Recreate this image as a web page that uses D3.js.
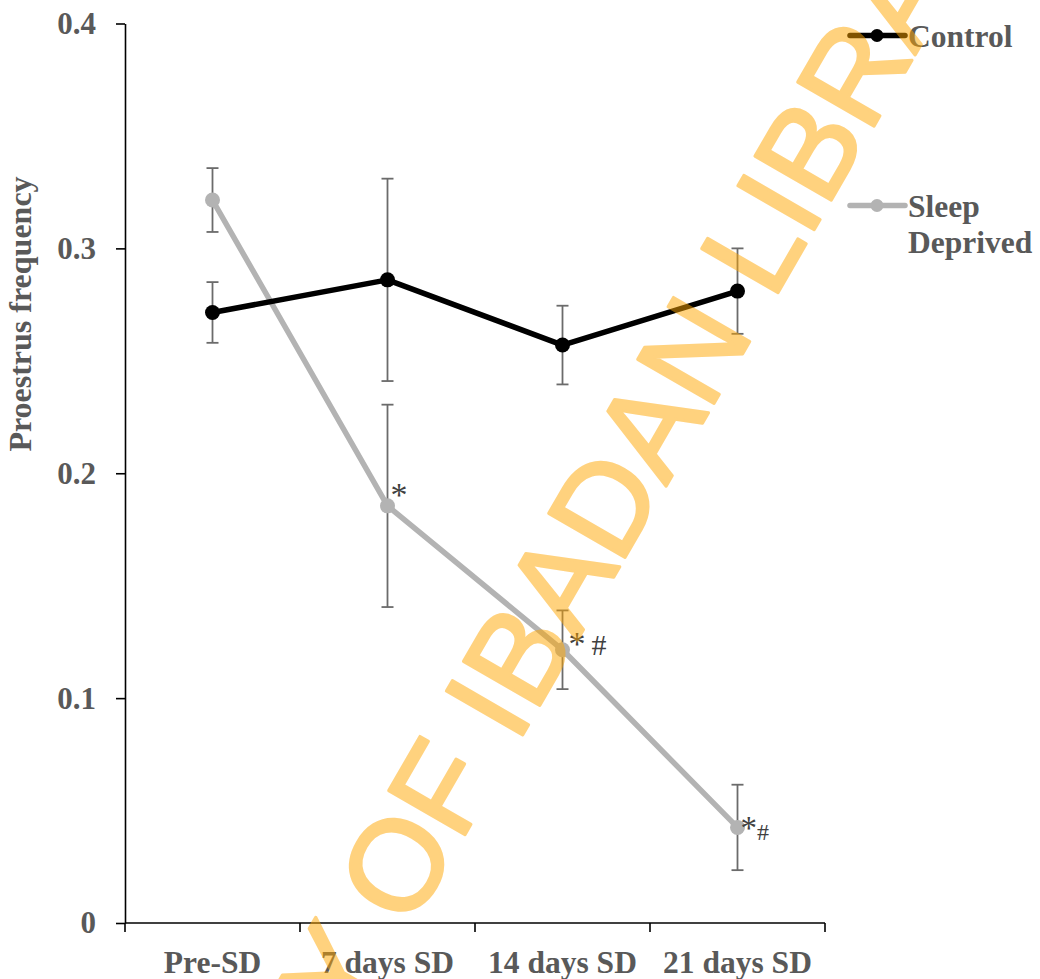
<!DOCTYPE html>
<html>
<head>
<meta charset="utf-8">
<script src="https://cdn.jsdelivr.net/npm/d3@7"></script>
<style>
  html, body { margin: 0; padding: 0; background: #fff; }
  svg { display: block; }
</style>
</head>
<body>
<svg id="chart" width="1040" height="979"></svg>
<script>
// Proestrus frequency, control vs sleep-deprived, mean ± error
const categories = ["Pre-SD", "7 days SD", "14 days SD", "21 days SD"];
const controlMean = [0.2715, 0.286, 0.257, 0.281];
const controlErr  = [0.0135, 0.045, 0.0175, 0.019];
const sdMean      = [0.3215, 0.1855, 0.1215, 0.0425];
const sdErr       = [0.0142, 0.045, 0.0175, 0.019];
const yTicks      = [0, 0.1, 0.2, 0.3, 0.4];
const seriesNames = ["Control", "Sleep Deprived"];
const sdMarks     = ["", "*", "* #", "*#"];
const watermark   = "UNIVERSITY OF IBADAN LIBRARY";

const svg = d3.select("#chart");
const plotLeft = 125, plotRight = 825, plotTop = 23.5, plotBottom = 923;

const textFont = "'Liberation Serif', 'Times New Roman', Times, serif";
const textColor = "#595959";
const sdColor = "#B3B3B3";

const x = d3.scaleBand().domain(categories).range([plotLeft, plotRight]).padding(0);
const y = d3.scaleLinear().domain([0, 0.4]).range([plotBottom, plotTop]);
const cx = c => x(c) + x.bandwidth() / 2;

// Y axis
const yAxis = svg.append("g")
  .attr("transform", `translate(${plotLeft},0)`)
  .call(d3.axisLeft(y).tickValues(yTicks).tickSize(9).tickSizeOuter(0).tickPadding(20)
        .tickFormat(d => d === 0 ? "0" : d3.format(".1f")(d)));
yAxis.select(".domain").attr("stroke", "#000").attr("stroke-width", 1.6);
yAxis.selectAll(".tick line").attr("stroke", "#000").attr("stroke-width", 1.6);
yAxis.selectAll(".tick text")
  .attr("font-family", textFont).attr("font-weight", "bold")
  .attr("font-size", 31).attr("fill", textColor);

// X axis: line, boundary ticks, category labels
const xAxis = svg.append("g").attr("transform", `translate(0,${plotBottom})`);
xAxis.append("line").attr("x1", plotLeft).attr("x2", plotRight)
  .attr("stroke", "#000").attr("stroke-width", 1.6);
xAxis.selectAll("line.bt")
  .data(categories.map(c => x(c)).concat([x.range()[1]]))
  .join("line").attr("class", "bt")
  .attr("x1", d => d).attr("x2", d => d).attr("y1", 0).attr("y2", 9)
  .attr("stroke", "#000").attr("stroke-width", 1.6);
xAxis.selectAll("text.cat")
  .data(categories).join("text").attr("class", "cat")
  .attr("x", d => cx(d)).attr("y", 50)
  .attr("text-anchor", "middle")
  .attr("font-family", textFont).attr("font-weight", "bold")
  .attr("font-size", 31.5).attr("fill", textColor)
  .text(d => d);

// Y title
svg.append("text")
  .attr("transform", `translate(31,314) rotate(-90)`)
  .attr("text-anchor", "middle")
  .attr("font-family", textFont).attr("font-weight", "bold")
  .attr("font-size", 32).attr("fill", textColor)
  .text("Proestrus frequency");

function drawSeries(means, errs, color) {
  const pts = categories.map((c, i) => ({ c, m: means[i], e: errs[i] }));
  const g = svg.append("g");
  g.append("path")
    .datum(pts)
    .attr("fill", "none").attr("stroke", color).attr("stroke-width", 5.5)
    .attr("stroke-linejoin", "round")
    .attr("d", d3.line().x(d => cx(d.c)).y(d => y(d.m)));
  const eb = g.selectAll("g.err").data(pts).join("g").attr("class", "err")
    .attr("stroke", "#6b6b6b").attr("stroke-width", 1.8);
  eb.append("line")
    .attr("x1", d => cx(d.c)).attr("x2", d => cx(d.c))
    .attr("y1", d => y(d.m + d.e)).attr("y2", d => y(d.m - d.e));
  eb.append("line")
    .attr("x1", d => cx(d.c) - 6).attr("x2", d => cx(d.c) + 6)
    .attr("y1", d => y(d.m + d.e)).attr("y2", d => y(d.m + d.e));
  eb.append("line")
    .attr("x1", d => cx(d.c) - 6).attr("x2", d => cx(d.c) + 6)
    .attr("y1", d => y(d.m - d.e)).attr("y2", d => y(d.m - d.e));
  g.selectAll("circle").data(pts).join("circle")
    .attr("cx", d => cx(d.c)).attr("cy", d => y(d.m)).attr("r", 7.5)
    .attr("fill", color);
}

drawSeries(sdMean, sdErr, sdColor);
drawSeries(controlMean, controlErr, "#000");

// Significance marks beside the sleep-deprived points
const markLayout = [null, { dx: 3, dy: 0 }, { dx: 6, dy: 5 }, { dx: 3, dy: 12 }];
sdMarks.forEach((m, i) => {
  if (!m) return;
  const L = markLayout[i];
  const t = svg.append("text")
    .attr("x", cx(categories[i]) + L.dx).attr("y", y(sdMean[i]) + L.dy)
    .attr("font-family", textFont).attr("fill", "#404040");
  if (m === "*#") {
    t.append("tspan").attr("font-size", 33).text("*");
    t.append("tspan").attr("font-size", 24).attr("dy", 1).text("#");
  } else {
    t.append("tspan").attr("font-size", 34).text("*");
    if (m.includes("#")) {
      t.append("tspan").attr("font-size", 30).attr("dx", 6).text("#");
    }
  }
});

// Legend
const legendItems = [
  { name: seriesNames[0], color: "#000", y: 35.5, lines: ["Control"] },
  { name: seriesNames[1], color: sdColor, y: 205.5, lines: ["Sleep", "Deprived"] }
];
const lg = svg.append("g");
legendItems.forEach(it => {
  lg.append("line").attr("x1", 850).attr("x2", 905).attr("y1", it.y).attr("y2", it.y)
    .attr("stroke", it.color).attr("stroke-width", 5.5).attr("stroke-linecap", "round");
  lg.append("circle").attr("cx", 877).attr("cy", it.y).attr("r", 6.5).attr("fill", it.color);
  const t = lg.append("text").attr("x", 908).attr("y", it.y + 11)
    .attr("font-family", textFont).attr("font-weight", "bold")
    .attr("font-size", 31.5).attr("fill", textColor);
  it.lines.forEach((ln, k) => {
    t.append("tspan").attr("x", 908).attr("dy", k === 0 ? 0 : 36).text(ln);
  });
});

// Diagonal library watermark laid over the chart
const wm = svg.append("g").attr("opacity", 0.5);
const wmText = wm.append("text")
  .attr("font-family", "'Liberation Sans', Arial, sans-serif")
  .attr("font-size", 128)
  .attr("fill", "#FFA600").attr("stroke", "#FFA600").attr("stroke-width", 3)
  .attr("stroke-linejoin", "round")
  .attr("xml:space", "preserve")
  .text(watermark);
const lead = wmText.node().getSubStringLength(0, watermark.indexOf("OF"));
wmText.attr("x", -lead).attr("transform", "translate(410,930) rotate(-60)");
</script>
</body>
</html>
